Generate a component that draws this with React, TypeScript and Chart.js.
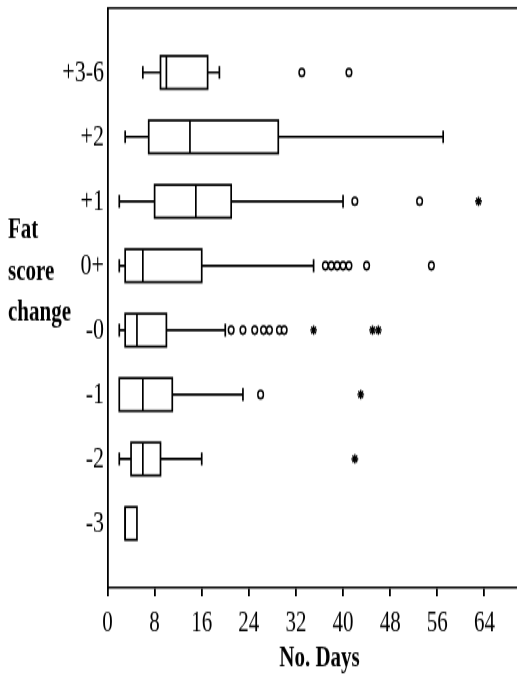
import React, { useEffect, useRef } from "react";
import { Chart, registerables } from "chart.js";

Chart.register(...registerables);

// ---- data ----
const categories = ["+3-6", "+2", "+1", "0+", "-0", "-1", "-2", "-3"];
const whiskerLow = [6, 3, 2, 2, 2, 2, 2, 3];
const q1 = [9, 7, 8, 3, 3, 2, 4, 3];
const median = [10, 14, 15, 6, 5, 6, 6, 3];
const q3 = [17, 29, 21, 16, 10, 11, 9, 5];
const whiskerHigh = [19, 57, 40, 35, 20, 23, 16, 5];
const circleOutliers: number[][] = [
  [33, 41],
  [],
  [42, 53],
  [37, 38, 39, 40, 41, 44, 55],
  [21, 23, 25, 26.5, 27.5, 29.2, 30],
  [26],
  [],
  [],
];
const starOutliers: number[][] = [[], [], [63], [], [35, 45, 46], [43], [42], []];
const xTicks = [0, 8, 16, 24, 32, 40, 48, 56, 64];
const xMax = 72;
const yTitleLines = ["Fat", "score", "change"];
const xTitle = "No. Days";

// ---- drawing constants ----
const VIEW_W = 517;
const DRAW_W = 537;
const DRAW_H = 483;
const DISPLAY_H = 676;
const BOX_HALF = 0.255;
const CAP_HALF = 0.1;
const SERIF = '"Liberation Serif", "Times New Roman", serif';

const boxPlugin = {
  id: "boxes",
  beforeDatasetsDraw(chart: any) {
    const { ctx, chartArea } = chart;
    const x = chart.scales.x;
    const y = chart.scales.y;
    ctx.save();
    ctx.strokeStyle = "#000";
    ctx.lineCap = "butt";
    // top frame line
    ctx.lineWidth = 1.5;
    ctx.beginPath();
    ctx.moveTo(chartArea.left, chartArea.top);
    ctx.lineTo(chartArea.right, chartArea.top);
    ctx.stroke();

    ctx.lineWidth = 1.7;
    const px = (v: number) => x.getPixelForValue(v);
    categories.forEach((_, i) => {
      const yc = y.getPixelForValue(i + 1);
      const hh = Math.abs(y.getPixelForValue(i + 1 + BOX_HALF) - yc);
      const ch = Math.abs(y.getPixelForValue(i + 1 + CAP_HALF) - yc);
      const a = px(q1[i]);
      const b = px(q3[i]);
      ctx.strokeRect(a, yc - hh, b - a, 2 * hh);
      const m = px(median[i]);
      ctx.beginPath();
      ctx.moveTo(m, yc - hh);
      ctx.lineTo(m, yc + hh);
      ctx.stroke();
      if (whiskerLow[i] < q1[i]) {
        const l = px(whiskerLow[i]);
        ctx.beginPath();
        ctx.moveTo(l, yc);
        ctx.lineTo(a, yc);
        ctx.moveTo(l, yc - ch);
        ctx.lineTo(l, yc + ch);
        ctx.stroke();
      }
      if (whiskerHigh[i] > q3[i]) {
        const r = px(whiskerHigh[i]);
        ctx.beginPath();
        ctx.moveTo(b, yc);
        ctx.lineTo(r, yc);
        ctx.moveTo(r, yc - ch);
        ctx.lineTo(r, yc + ch);
        ctx.stroke();
      }
    });
    ctx.restore();
  },
  afterDraw(chart: any) {
    const { ctx } = chart;
    ctx.save();
    ctx.fillStyle = "#000";
    ctx.font = `bold 21px ${SERIF}`;
    ctx.textAlign = "left";
    ctx.textBaseline = "alphabetic";
    const baselines = [170, 199.5, 229];
    yTitleLines.forEach((t, i) => ctx.fillText(t, 8, baselines[i]));
    ctx.restore();
  },
};

export default function App() {
  const ref = useRef<HTMLCanvasElement | null>(null);
  useEffect(() => {
    document.body.style.margin = "0";
    if (!ref.current) return;
    const circlePts: { x: number; y: number }[] = [];
    circleOutliers.forEach((arr, i) => arr.forEach((v) => circlePts.push({ x: v, y: i + 1 })));
    const starPts: { x: number; y: number }[] = [];
    starOutliers.forEach((arr, i) => arr.forEach((v) => starPts.push({ x: v, y: i + 1 })));

    const chart = new Chart(ref.current, {
      type: "scatter",
      data: {
        datasets: [
          {
            data: circlePts,
            pointStyle: "circle",
            pointRadius: 2.8,
            borderWidth: 1.5,
            borderColor: "#000",
            backgroundColor: "#fff",
          },
          {
            data: starPts,
            pointStyle: "star",
            pointRadius: 3.4,
            borderWidth: 1.4,
            borderColor: "#000",
            backgroundColor: "#000",
          },
        ],
      },
      options: {
        responsive: false,
        animation: false,
        devicePixelRatio: 1,
        events: [],
        layout: { padding: { top: 5.7, right: 0, bottom: 0, left: 0 } },
        plugins: { legend: { display: false }, tooltip: { enabled: false } },
        scales: {
          x: {
            type: "linear",
            position: "bottom",
            min: 0,
            max: xMax,
            afterBuildTicks: (s: any) => {
              s.ticks = xTicks.map((v) => ({ value: v }));
            },
            afterFit: (s: any) => {
              s.height = 63;
            },
            ticks: {
              color: "#000",
              font: { family: SERIF, size: 21 },
              padding: 7,
              maxRotation: 0,
              autoSkip: false,
            },
            grid: {
              display: true,
              drawOnChartArea: false,
              drawTicks: true,
              tickLength: 6,
              color: "#000",
              lineWidth: 1.8,
            },
            border: { display: true, color: "#000", width: 1.5 },
            title: {
              display: true,
              text: xTitle,
              color: "#000",
              font: { family: SERIF, size: 21, weight: "bold" },
              padding: { top: 0, bottom: 0 },
            },
          },
          y: {
            type: "linear",
            min: 0,
            max: 9,
            reverse: true,
            afterBuildTicks: (s: any) => {
              s.ticks = categories.map((_, i) => ({ value: i + 1 }));
            },
            afterFit: (s: any) => {
              s.width = 107.5;
            },
            ticks: {
              color: "#000",
              font: { family: SERIF, size: 22, lineHeight: 0.1 },
              padding: 3.5,
              autoSkip: false,
              callback: (v: any) => categories[Number(v) - 1] ?? "",
            },
            grid: { display: false, drawTicks: false },
            border: { display: true, color: "#000", width: 1.8 },
          },
        },
      },
      plugins: [boxPlugin],
    } as any);
    return () => chart.destroy();
  }, []);

  return (
    <div style={{ width: `${VIEW_W}px`, height: `${DISPLAY_H}px`, overflow: "hidden" }}>
      <canvas
        ref={ref}
        width={DRAW_W}
        height={DRAW_H}
        style={{ display: "block", width: `${DRAW_W}px`, height: `${DISPLAY_H}px` }}
      />
    </div>
  );
}
